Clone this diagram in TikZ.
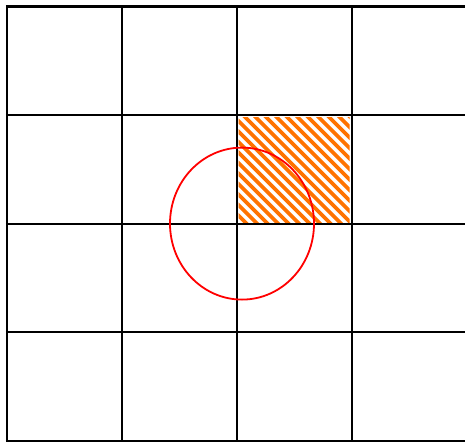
\documentclass[tikz,border=0pt]{standalone}
\definecolor{hatchorange}{RGB}{255,115,0}
\begin{document}
\begin{tikzpicture}[x=1pt,y=-1pt,
  gridline/.style={line width=2.3pt,black},
  hatchline/.style={line width=3.6pt,hatchorange},
  ring/.style={line width=1.8pt,red}]
\useasboundingbox (0,0) rectangle (465,441);
\fill[white] (0,0) rectangle (465,441);
% hatched cell
\begin{scope}
  \clip (238.5,117.5) rectangle (349.5,222);
  \foreach \c in {-126,-115.5,...,120}{
    \draw[hatchline] (238+\c,110) -- (238+\c+120,230);
  }
\end{scope}
% grid
\foreach \x in {7,122,237,352,467}{
  \draw[gridline] (\x,5.4) -- (\x,442);
}
\foreach \y in {6.5,115,224,332,440.8}{
  \draw[gridline] (5.9,\y) -- (470,\y);
}
% circle
\draw[ring] (242,223.6) ellipse [x radius=72, y radius=76];
\end{tikzpicture}
\end{document}
